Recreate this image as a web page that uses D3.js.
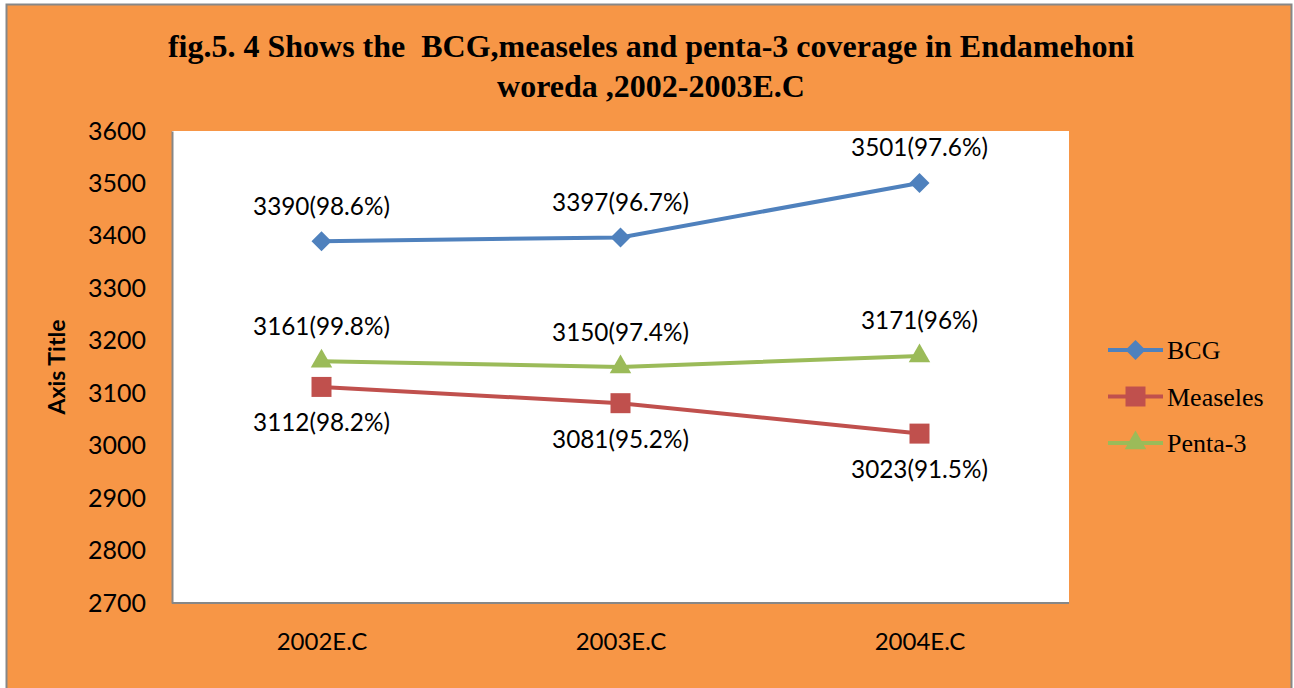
<!DOCTYPE html>
<html>
<head>
<meta charset="utf-8">
<script src="https://cdn.jsdelivr.net/npm/d3@7"></script>
<style>
  body { margin: 0; background: #fff; }
  svg { display: block; }
  .tick text { font-family: Lato, sans-serif; font-size: 25px; fill: #000; }
  .x.axis .tick text { font-size: 24px; }
  .label { font-family: Lato, sans-serif; font-size: 24.3px; fill: #000; }
</style>
</head>
<body>
<script>
var years = ['2002E.C', '2003E.C', '2004E.C']
var seriesNames = ['BCG', 'Measeles', 'Penta-3']
var bcg = [3390, 3397, 3501]
var measeles = [3112, 3081, 3023]
var penta = [3161, 3150, 3171]
var bcgPct = ['98.6%', '96.7%', '97.6%']
var measelesPct = ['98.2%', '95.2%', '91.5%']
var pentaPct = ['99.8%', '97.4%', '96%']
var yTicks = [2700, 2800, 2900, 3000, 3100, 3200, 3300, 3400, 3500, 3600]

var W = 1294
var H = 688
var margin = {top: 131, right: 225, bottom: 85, left: 172}
var width = W - margin.left - margin.right
var height = H - margin.top - margin.bottom

var colors = {BCG: '#4F81BD', Measeles: '#C0504D', 'Penta-3': '#9BBB59'}

// marker: diamond = square turned 45deg
var markers = {
  BCG: {type: d3.symbolSquare, size: 200, rotate: 45},
  Measeles: {type: d3.symbolSquare, size: 400, rotate: 0},
  'Penta-3': {type: d3.symbolTriangle, size: 200, rotate: 0}
}

var series = [
  {name: 'BCG', values: bcg, pct: bcgPct, above: true},
  {name: 'Measeles', values: measeles, pct: measelesPct, above: false},
  {name: 'Penta-3', values: penta, pct: pentaPct, above: true}
]

function markerPath (name) {
  var m = markers[name]
  return d3.symbol().type(m.type).size(m.size)()
}

var svg = d3.select('body').append('svg')
  .attr('width', W)
  .attr('height', H)

// outer chart frame
svg.append('rect')
  .attr('x', 6.5)
  .attr('y', 4.5)
  .attr('width', 1285)
  .attr('height', 700)
  .attr('fill', '#F79646')
  .attr('stroke', '#878787')
  .attr('stroke-width', 2)

svg.append('text')
  .attr('x', 651)
  .attr('y', 57)
  .attr('text-anchor', 'middle')
  .style('font-family', '"Liberation Serif", serif')
  .style('font-weight', 'bold')
  .style('font-size', '32px')
  .style('white-space', 'pre')
  .text('fig.5. 4 Shows the  BCG,measeles and penta-3 coverage in Endamehoni')

svg.append('text')
  .attr('x', 651)
  .attr('y', 97)
  .attr('text-anchor', 'middle')
  .style('font-family', '"Liberation Serif", serif')
  .style('font-weight', 'bold')
  .style('font-size', '32px')
  .text('woreda ,2002-2003E.C')

var g = svg.append('g')
  .attr('transform', 'translate(' + margin.left + ',' + margin.top + ')')

g.append('rect')
  .attr('width', width)
  .attr('height', height)
  .attr('fill', '#fff')

var x = d3.scalePoint()
  .domain(years)
  .range([0, width])
  .padding(0.5)

var y = d3.scaleLinear()
  .domain([2700, 3600])
  .range([height, 0])

var yAxis = d3.axisLeft(y)
  .tickValues(yTicks)
  .tickSize(0)
  .tickPadding(26)
  .tickFormat(d3.format('d'))

var xAxis = d3.axisBottom(x)
  .tickSize(0)
  .tickPadding(30)

g.append('g')
  .attr('class', 'y axis')
  .call(yAxis)
  .call(function (s) { s.select('.domain').attr('stroke', '#878787').attr('stroke-width', 2) })

g.append('g')
  .attr('class', 'x axis')
  .attr('transform', 'translate(0,' + height + ')')
  .call(xAxis)
  .call(function (s) {
    s.select('.domain').attr('d', 'M0,0H' + width).attr('stroke', '#878787').attr('stroke-width', 2)
  })

svg.append('text')
  .attr('transform', 'translate(57,367) rotate(-90)')
  .attr('text-anchor', 'middle')
  .attr('dy', '0.35em')
  .style('font-family', 'Lato, sans-serif')
  .style('font-weight', 'bold')
  .style('font-size', '23px')
  .text('Axis Title')

var line = d3.line()
  .x(function (d, i) { return x(years[i]) })
  .y(function (d) { return y(d) })

series.forEach(function (s) {
  var c = colors[s.name]
  g.append('path')
    .datum(s.values)
    .attr('fill', 'none')
    .attr('stroke', c)
    .attr('stroke-width', 4)
    .attr('d', line)

  g.selectAll('.m-' + s.name)
    .data(s.values)
    .enter().append('path')
    .attr('transform', function (d, i) {
      return 'translate(' + x(years[i]) + ',' + y(d) + ') rotate(' + markers[s.name].rotate + ')'
    })
    .attr('d', markerPath(s.name))
    .attr('fill', c)

  g.selectAll('.l-' + s.name)
    .data(s.values)
    .enter().append('text')
    .attr('class', 'label')
    .attr('x', function (d, i) { return x(years[i]) })
    .attr('y', function (d) { return y(d) + (s.above ? -35 : 36) })
    .attr('dy', '0.35em')
    .attr('text-anchor', 'middle')
    .text(function (d, i) { return d + '(' + s.pct[i] + ')' })
})

var legend = svg.selectAll('.legend')
  .data(series)
  .enter().append('g')
  .attr('class', 'legend')
  .attr('transform', function (d, i) { return 'translate(1108,' + (350 + i * 46.5) + ')' })

legend.append('line')
  .attr('x1', 0)
  .attr('x2', 55)
  .attr('stroke', function (d) { return colors[d.name] })
  .attr('stroke-width', 4)

legend.append('path')
  .attr('transform', function (d) { return 'translate(27.5,0) rotate(' + markers[d.name].rotate + ')' })
  .attr('d', function (d) { return markerPath(d.name) })
  .attr('fill', function (d) { return colors[d.name] })

legend.append('text')
  .attr('x', 59)
  .attr('dy', '0.35em')
  .style('font-family', '"Liberation Serif", serif')
  .style('font-size', '26px')
  .text(function (d) { return d.name })
</script>
</body>
</html>
